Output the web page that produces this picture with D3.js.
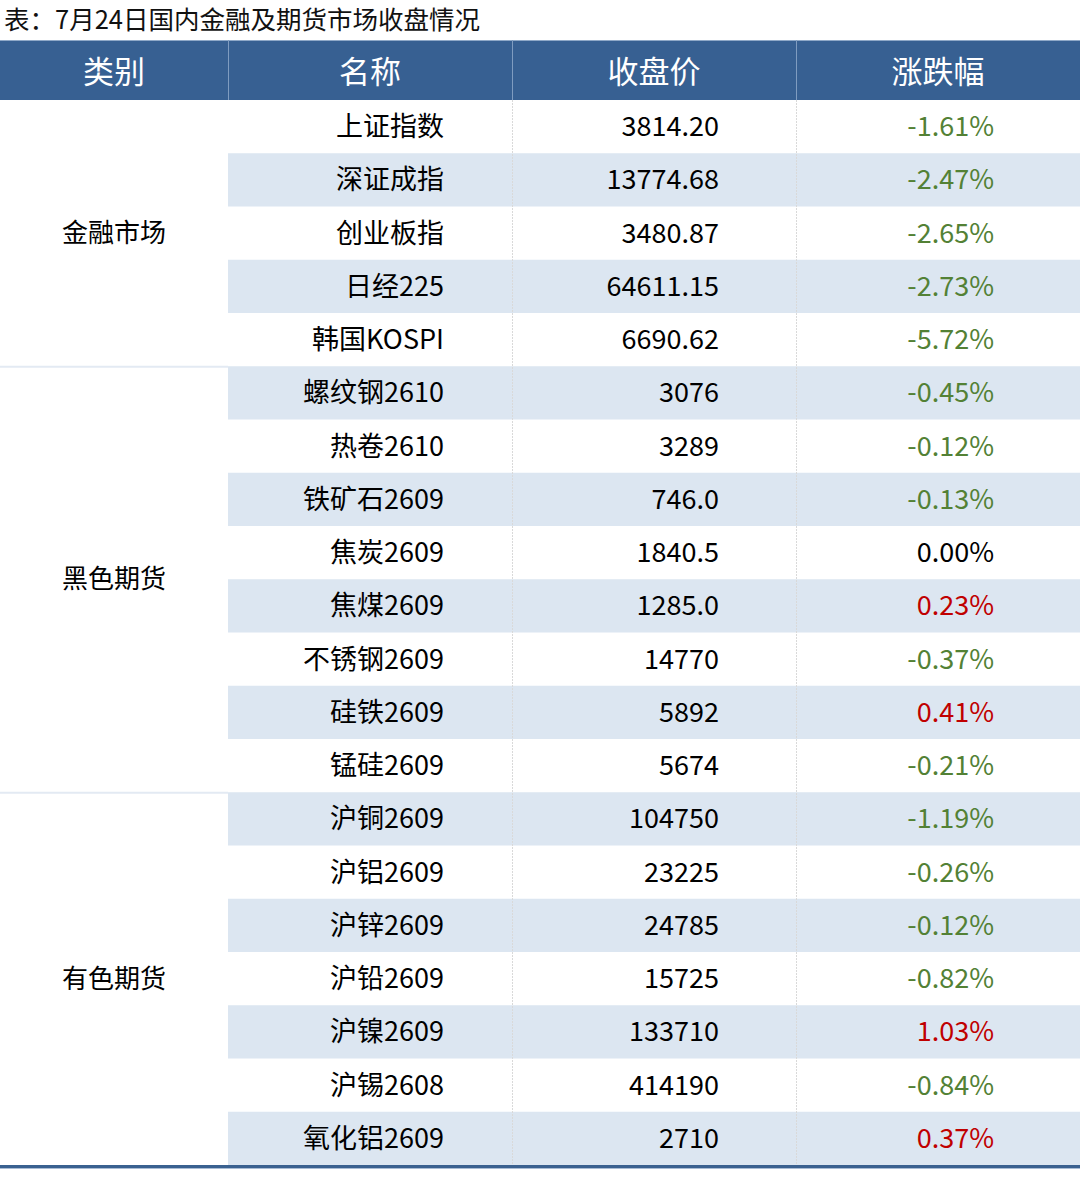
<!DOCTYPE html>
<html><head><meta charset="utf-8">
<script src="https://cdn.jsdelivr.net/npm/d3@7"></script>
<style>
html,body{margin:0;padding:0;background:#fff;}
svg text{font-family:"Noto Sans CJK SC","Noto Sans",sans-serif;}
</style></head>
<body><svg id="c" width="1080" height="1196"></svg>
<script>
const title = "表：7月24日国内金融及期货市场收盘情况";
const headers = ["类别","名称","收盘价","涨跌幅"];
const groups = ["金融市场","黑色期货","有色期货"];
const groupSizes = [5,8,7];
const names = ["上证指数","深证成指","创业板指","日经225","韩国KOSPI","螺纹钢2610","热卷2610","铁矿石2609","焦炭2609","焦煤2609","不锈钢2609","硅铁2609","锰硅2609","沪铜2609","沪铝2609","沪锌2609","沪铅2609","沪镍2609","沪锡2608","氧化铝2609"];
const prices = ["3814.20","13774.68","3480.87","64611.15","6690.62","3076","3289","746.0","1840.5","1285.0","14770","5892","5674","104750","23225","24785","15725","133710","414190","2710"];
const changes = [-1.61,-2.47,-2.65,-2.73,-5.72,-0.45,-0.12,-0.13,0.00,0.23,-0.37,0.41,-0.21,-1.19,-0.26,-0.12,-0.82,1.03,-0.84,0.37];

const svg = d3.select("#c");
const colEdges = [0,228,512,796,1080];
const x = d3.scaleOrdinal().domain(d3.range(5)).range(colEdges);
const headTop = 40, headBot = 100, bodyBot = 1165;
const y = d3.scaleBand().domain(d3.range(names.length)).range([headBot, bodyBot]).padding(0);
const fmt = v => v.toFixed(2) + "%";
const color = v => v > 0 ? "#c00000" : (v < 0 ? "#538135" : "#000");

svg.append("text").attr("x",4).attr("y",29).attr("font-size",25.5).attr("fill","#111").text(title);

// header
svg.append("rect").attr("x",0).attr("y",headTop).attr("width",1080).attr("height",headBot-headTop).attr("fill","#376092");
svg.append("line").attr("x1",0).attr("x2",1080).attr("y1",headTop+0.5).attr("y2",headTop+0.5).attr("stroke","#8fa9c8").attr("stroke-width",1);
headers.forEach((h,i)=>{
  const cx = (x(i)+x(i+1))/2;
  svg.append("text").attr("x",cx).attr("y",(headTop+headBot)/2+13).attr("text-anchor","middle")
    .attr("font-size",31).attr("fill","#fff").text(h);
  if(i>0) svg.append("line").attr("x1",x(i)+0.5).attr("x2",x(i)+0.5).attr("y1",headTop).attr("y2",headBot).attr("stroke","#7f9cc0").attr("stroke-width",1);
});

// stripes
names.forEach((n,i)=>{
  if(i%2===1) svg.append("rect").attr("x",x(1)).attr("y",y(i)).attr("width",1080-x(1)).attr("height",y.bandwidth()).attr("fill","#dce6f1");
});

// vertical dividers body
[2,3].forEach(c=>{
  svg.append("line").attr("x1",x(c)+0.5).attr("x2",x(c)+0.5).attr("y1",headBot).attr("y2",bodyBot)
    .attr("stroke","#d9d9d9").attr("stroke-width",1).attr("stroke-dasharray","2,1");
});

// groups
let start = 0;
groups.forEach((g,gi)=>{
  const end = start + groupSizes[gi];
  const top = y(start), bot = y(end-1)+y.bandwidth();
  svg.append("text").attr("x",114).attr("y",(top+bot)/2+9).attr("text-anchor","middle").attr("font-size",26).attr("fill","#000").text(g);
  if(gi>0) svg.append("line").attr("x1",0).attr("x2",x(1)).attr("y1",top+0.5).attr("y2",top+0.5).attr("stroke","#e3eaf3").attr("stroke-width",2);
  start = end;
});

// rows
names.forEach((n,i)=>{
  const ty = y(i)+y.bandwidth()/2+9.5;
  svg.append("text").attr("x",444).attr("y",ty).attr("text-anchor","end").attr("font-size",27).attr("fill","#000").text(n);
  svg.append("text").attr("x",719).attr("y",ty).attr("text-anchor","end").attr("font-size",27).attr("fill","#000").text(prices[i]);
  svg.append("text").attr("x",994).attr("y",ty).attr("text-anchor","end").attr("font-size",27).attr("fill",color(changes[i])).text(fmt(changes[i]));
});

// bottom border
svg.append("rect").attr("x",0).attr("y",bodyBot).attr("width",1080).attr("height",3).attr("fill","#3a6190");
svg.append("rect").attr("x",0).attr("y",bodyBot+3).attr("width",1080).attr("height",1).attr("fill","#a9bcd4");
</script></body></html>
